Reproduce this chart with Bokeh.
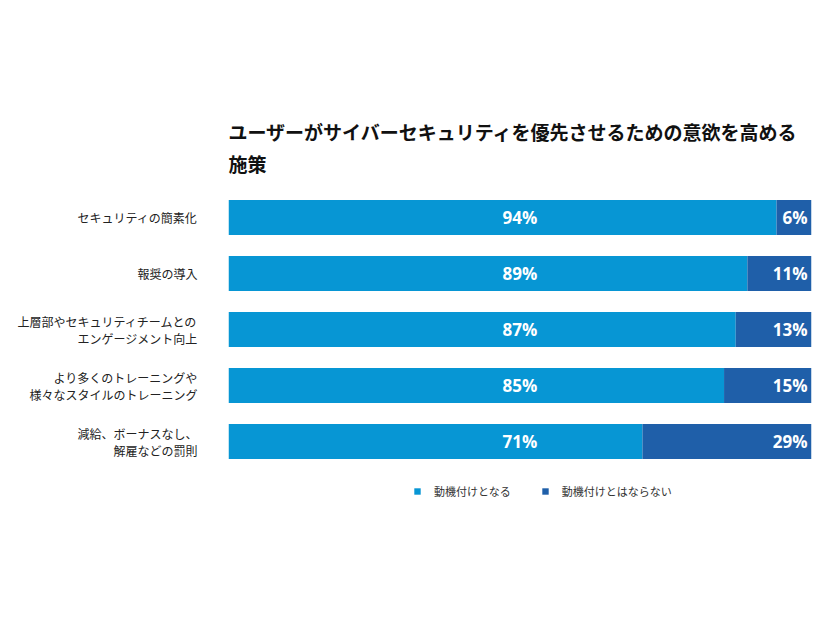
from bokeh.plotting import figure
from bokeh.models import ColumnDataSource, Title, Legend, LegendItem, FactorRange
from bokeh.core.properties import value
from bokeh.embed import file_html
from bokeh.resources import INLINE

categories = ["セキュリティの簡素化", "報奨の導入", "上層部やセキュリティチームとの\nエンゲージメント向上",
              "より多くのトレーニングや\n様々なスタイルのトレーニング", "減給、ボーナスなし、\n解雇などの罰則"]
motivating = [94, 89, 87, 85, 71]
not_motivating = [6, 11, 13, 15, 29]
series_names = ["動機付けとなる", "動機付けとはならない"]
title_lines = ["ユーザーがサイバーセキュリティを優先させるための意欲を高める", "施策"]

c_light = "#0796d4"
c_dark = "#1f5fa9"
jp = "Noto Sans CJK JP"

src = ColumnDataSource(dict(
    cat=categories, yes=motivating, no=not_motivating,
    total=[a + b for a, b in zip(motivating, not_motivating)],
    mid=[(a + b) / 2 for a, b in zip(motivating, not_motivating)],
    yes_lbl=[f"{v}%" for v in motivating], no_lbl=[f"{v}%" for v in not_motivating],
))

# an empty factor at the bottom leaves room for the legend inside the frame
factors = [""] + categories[::-1]

p = figure(frame_width=583, frame_height=336, y_range=FactorRange(*factors, range_padding=0),
           x_range=(0, 100), output_backend="svg", toolbar_location=None,
           min_border_left=228, min_border_right=6, min_border_top=189, min_border_bottom=20,
           outline_line_color=None)

r = p.hbar_stack(["yes", "no"], y="cat", height=0.625, color=[c_light, c_dark], source=src, line_color=None)

p.text(x="mid", y="cat", text="yes_lbl", source=src, text_align="center", text_baseline="middle",
       text_color="white", text_font=value("Open Sans"), text_font_style="bold", text_font_size="17px")
p.text(x="total", y="cat", text="no_lbl", source=src, text_align="right", text_baseline="middle",
       x_offset=-4, text_color="white", text_font=value("Open Sans"), text_font_style="bold",
       text_font_size="17px")

p.xaxis.visible = False
p.xgrid.visible = False
p.ygrid.visible = False
ax = p.yaxis[0]
ax.axis_line_color = None
ax.major_tick_line_color = None
ax.minor_tick_line_color = None
ax.major_label_standoff = 25
ax.major_label_text_font = jp
ax.major_label_text_font_size = "12px"
ax.major_label_text_color = "#222222"
ax.major_label_text_align = "right"
ax.major_label_text_line_height = 1.0

p.title = Title(text=title_lines[0], text_font=jp, text_font_style="bold", text_font_size="19px",
                text_color="#111111", align="left", offset=0, standoff=-19)
p.add_layout(Title(text=title_lines[1], text_font=jp, text_font_style="bold", text_font_size="19px",
                   text_color="#111111", align="left", offset=0, standoff=25), "above")

legend = Legend(items=[LegendItem(label=series_names[0], renderers=[r[0]]),
                       LegendItem(label=series_names[1], renderers=[r[1]])],
                orientation="horizontal", location=(185, 26), glyph_width=8, glyph_height=8,
                label_text_font=jp, label_text_font_size="11px", label_text_color="#333333",
                border_line_color=None, background_fill_alpha=0, spacing=30, label_standoff=13,
                margin=0, padding=10)
p.add_layout(legend, "center")

open("out.html", "w").write(file_html(p, INLINE))
